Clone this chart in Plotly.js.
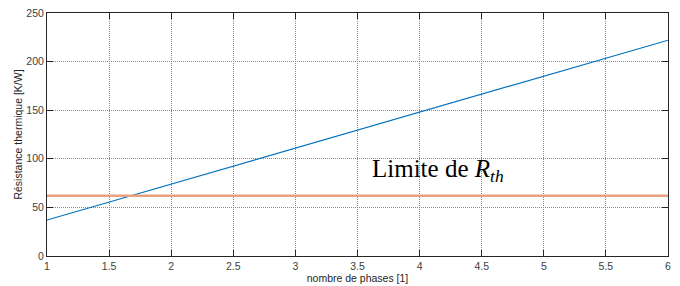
<!DOCTYPE html>
<html><head><meta charset="utf-8">
<script src="https://cdn.plot.ly/plotly-3.0.1.min.js"></script>
<style>html,body{margin:0;padding:0;background:#fff}#c{width:680px;height:286px}</style>
</head><body><div id="c"></div>
<script>
const phases = [1, 2, 3, 4, 5, 6];
const rth = [37, 74, 111, 148, 185, 222];
const limitX = [1, 6];
const limitY = [62, 62];
const xTicks = [1, 1.5, 2, 2.5, 3, 3.5, 4, 4.5, 5, 5.5, 6];
const yTicks = [0, 50, 100, 150, 200, 250];

const axisCommon = {
  showline: true, linecolor: '#262626', linewidth: 1, mirror: 'ticks',
  ticks: 'inside', ticklen: 6, tickcolor: '#262626',
  showgrid: true, gridcolor: '#8a8a8a', griddash: '1px,1px', gridwidth: 1,
  zeroline: false,
  tickfont: {family: 'Liberation Sans, Arial', size: 10.5, color: '#404040'}
};

Plotly.newPlot('c', [
  {x: phases, y: rth, mode: 'lines', line: {color: '#0072BD', width: 1.2}, hoverinfo: 'skip'},
  {x: limitX, y: limitY, mode: 'lines', line: {color: '#E8A07E', width: 2.5}, hoverinfo: 'skip'}
], {
  width: 680, height: 286,
  margin: {l: 47, r: 12, t: 13, b: 30},
  paper_bgcolor: '#fff', plot_bgcolor: '#fff',
  showlegend: false,
  xaxis: Object.assign({}, axisCommon, {range: [1, 6], tickvals: xTicks, ticktext: xTicks.map(String),
    title: {text: 'nombre de phases [1]', font: {family: 'Liberation Sans, Arial', size: 10.5, color: '#262626'}, standoff: 1}}),
  yaxis: Object.assign({}, axisCommon, {range: [0, 250], tickvals: yTicks,
    title: {text: 'Résistance thermique [K/W]', font: {family: 'Liberation Sans, Arial', size: 10.5, color: '#262626'}, standoff: 1}}),
  annotations: [{
    xref: 'x', yref: 'y', x: 3.6, y: 88, xanchor: 'left', yanchor: 'middle', showarrow: false,
    text: 'Limite de <i>R<sub>th</sub></i>',
    font: {family: 'Liberation Serif, Times New Roman', size: 25, color: '#000'}
  }]
}, {staticPlot: true});
</script></body></html>
